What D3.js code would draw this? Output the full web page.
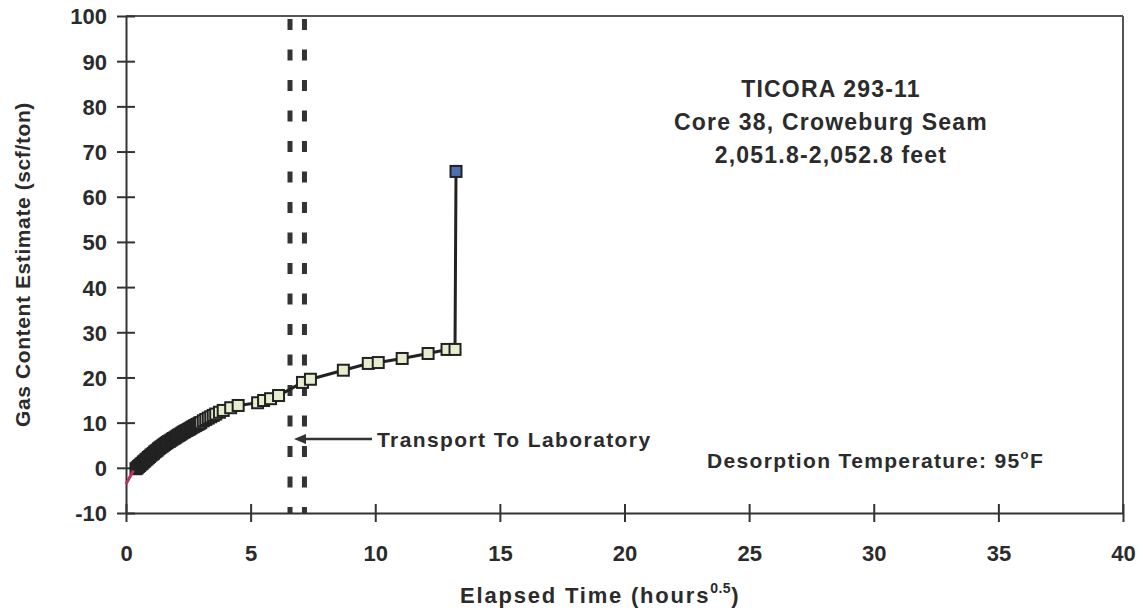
<!DOCTYPE html>
<html><head><meta charset="utf-8">
<script src="https://cdn.jsdelivr.net/npm/d3@7"></script>
<style>
body{margin:0;background:#fff;}
text{font-family:"Liberation Sans",Arial,Helvetica,sans-serif;font-weight:bold;fill:#2b2b2b;}
</style></head>
<body>
<svg id="c" width="1143" height="616"></svg>
<script>
// ---- data ----
const elapsed = [0.40,0.45,0.50,0.55,0.60,0.65,0.70,0.75,0.80,0.85,0.90,0.95,1.00,1.05,1.10,1.15,1.20,1.25,1.30,1.35,1.40,1.45,1.50,1.55,1.60,1.65,1.70,1.75,1.80,1.85,1.90,1.95,2.00,2.05,2.10,2.15,2.20,2.25,2.30,2.35,2.40,2.45,2.50,2.55,2.60,2.65,2.70,2.75,2.80,2.85,2.90,2.95,3.00,3.1,3.2,3.3,3.4,3.5,3.6,3.75,3.9,4.2,4.5,5.28,5.52,5.8,6.12,7.08,7.4,8.72,9.72,10.12,11.08,12.12,12.88,13.2];
const gasContent = [-0.2,0.0,0.3,0.5,0.8,1.0,1.3,1.5,1.8,2.0,2.3,2.5,2.8,3.0,3.2,3.5,3.7,3.9,4.2,4.4,4.6,4.8,5.0,5.2,5.4,5.6,5.8,5.9,6.1,6.3,6.5,6.6,6.8,7.0,7.2,7.3,7.5,7.7,7.9,8.0,8.2,8.3,8.5,8.6,8.8,9.0,9.1,9.3,9.4,9.6,9.7,9.9,10.0,10.4,10.7,11.0,11.3,11.6,11.9,12.3,12.7,13.3,13.8,14.4,14.9,15.3,16.0,18.9,19.6,21.6,23.1,23.3,24.2,25.3,26.2,26.2];
const finalPoint = {x:13.24, y:65.6};
const lostGas = [{x:0,y:-3.6},{x:0.3,y:-0.6}];
const transportLines = [6.58, 7.16];
const xTicks = [0,5,10,15,20,25,30,35,40];
const yTicks = [-10,0,10,20,30,40,50,60,70,80,90,100];
const titleLines = ["TICORA 293-11","Core 38, Croweburg Seam","2,051.8-2,052.8 feet"];

// ---- layout ----
const svg = d3.select("#c");
const L=126, R=1123, T=16, B=513;
const x = d3.scaleLinear().domain([0,40]).range([L,R]);
const y = d3.scaleLinear().domain([-10,100]).range([B,T]);
const ink = "#333";

// frame top & right
svg.append("line").attr("x1",L).attr("x2",R).attr("y1",T).attr("y2",T).attr("stroke","#555").attr("stroke-width",2);
svg.append("line").attr("x1",R).attr("x2",R).attr("y1",T).attr("y2",B).attr("stroke","#555").attr("stroke-width",2);

// x axis
const xa = svg.append("g").attr("transform",`translate(0,${B})`)
  .call(d3.axisBottom(x).tickValues(xTicks).tickSize(0).tickPadding(0).tickFormat(""));
xa.select(".domain").attr("stroke",ink).attr("stroke-width",2);
xa.selectAll(".tick").append("line").attr("y1",-9).attr("y2",9).attr("stroke",ink).attr("stroke-width",2);
xa.selectAll(".tick").append("text").attr("y",48).attr("text-anchor","middle")
  .style("font-size","22px").text(d=>d);

// y axis
const ya = svg.append("g").attr("transform",`translate(${L},0)`)
  .call(d3.axisLeft(y).tickValues(yTicks).tickSize(0).tickPadding(0).tickFormat(""));
ya.select(".domain").attr("stroke",ink).attr("stroke-width",2);
ya.selectAll(".tick").append("line").attr("x1",-9).attr("x2",9).attr("stroke",ink).attr("stroke-width",2);
ya.selectAll(".tick").append("text").attr("x",-19).attr("dy","0.36em").attr("text-anchor","end")
  .style("font-size","22px").text(d=>d);

// axis titles
const xt = svg.append("text").attr("x",460).attr("y",603).style("font-size","22px").style("letter-spacing","1.8px");
xt.append("tspan").text("Elapsed Time (hours");
xt.append("tspan").attr("dy",-10).style("font-size","14px").style("letter-spacing","0.5px").text("0.5");
xt.append("tspan").attr("dy",10).text(")");
svg.append("text").attr("transform",`translate(30,${(T+B)/2}) rotate(-90)`).attr("text-anchor","middle")
  .style("font-size","21px").style("letter-spacing","0.6px").text("Gas Content Estimate (scf/ton)");

// transport dashed lines
svg.selectAll(".tl").data(transportLines).enter().append("line")
  .attr("x1",d=>x(d)).attr("x2",d=>x(d)).attr("y1",y(100)).attr("y2",y(-10))
  .attr("stroke","#333").attr("stroke-width",5).attr("stroke-dasharray","11,19.5").attr("stroke-dashoffset",-3);

// arrow + label
const ay = 439;
svg.append("line").attr("x1",x(transportLines[0])+8).attr("x2",372).attr("y1",ay).attr("y2",ay).attr("stroke",ink).attr("stroke-width",2.5);
svg.append("path").attr("d",`M${x(transportLines[0])+4},${ay} l12,-5 l0,10 z`).attr("fill",ink);
svg.append("text").attr("x",377).attr("y",447).style("font-size","21px").style("letter-spacing","1.4px").text("Transport To Laboratory");

// main line
const pts = elapsed.map((e,i)=>({x:e,y:gasContent[i]}));
const all = pts.concat([finalPoint]);
svg.append("path").datum(all).attr("d",d3.line().x(d=>x(d.x)).y(d=>y(d.y)))
  .attr("stroke","#222").attr("stroke-width",3).attr("fill","none");

const s = 11;
svg.selectAll(".pt").data(pts).enter().append("rect")
  .attr("x",d=>x(d.x)-s/2).attr("y",d=>y(d.y)-s/2).attr("width",s).attr("height",s)
  .attr("fill","#e6eed0").attr("stroke","#222").attr("stroke-width",2);
svg.append("rect").attr("x",x(finalPoint.x)-s/2).attr("y",y(finalPoint.y)-s/2).attr("width",s).attr("height",s)
  .attr("fill","#4f70b0").attr("stroke","#222").attr("stroke-width",2);

// lost gas (red)
svg.append("path").datum(lostGas).attr("d",d3.line().x(d=>x(d.x)).y(d=>y(d.y)))
  .attr("stroke","#c0305a").attr("stroke-width",3).attr("fill","none");

// title block
svg.selectAll(".tt").data(titleLines).enter().append("text")
  .attr("x",831).attr("y",(d,i)=>97+i*33).attr("text-anchor","middle")
  .style("font-size","23px").style("letter-spacing","1.2px").text(d=>d);

// desorption temperature
const dt = svg.append("text").attr("x",707).attr("y",468).style("font-size","21px").style("letter-spacing","1.35px");
dt.append("tspan").text("Desorption Temperature: 95");
dt.append("tspan").attr("dy",-9).style("font-size","13px").text("o");
dt.append("tspan").attr("dy",9).text("F");
</script>
</body></html>
